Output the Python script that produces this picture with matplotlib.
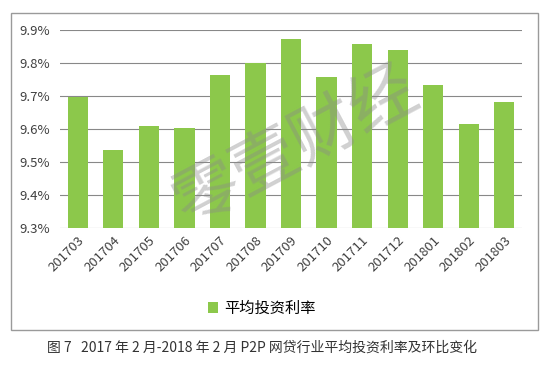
import matplotlib; matplotlib.use("agg")
import matplotlib.pyplot as plt
from matplotlib.patches import Rectangle
from matplotlib.ticker import FuncFormatter

plt.rcParams['font.family'] = ['Noto Sans CJK SC', 'DejaVu Sans']

months = ["201703", "201704", "201705", "201706", "201707", "201708", "201709",
          "201710", "201711", "201712", "201801", "201802", "201803"]
rates = [9.696, 9.536, 9.609, 9.602, 9.764, 9.799, 9.873,
         9.757, 9.858, 9.839, 9.733, 9.615, 9.682]
yticks = [9.3, 9.4, 9.5, 9.6, 9.7, 9.8, 9.9]

fig = plt.figure(figsize=(5.48, 3.67), dpi=100)

# outer chart frame
fig.patches.append(Rectangle((0.020, 0.1008), 0.9617, 0.8638, transform=fig.transFigure,
                             fill=False, edgecolor='#9a9a9a', linewidth=1.0))

ax = fig.add_axes([0.1095, 0.3787, 0.8431, 0.5396])
x = range(len(months))
ax.bar(x, rates, width=0.57, color='#8cc84b', zorder=2, label='平均投资利率')
ax.set_ylim(9.3, 9.9)
ax.set_xlim(-0.5, len(months) - 0.5)
ax.set_yticks(yticks)
ax.yaxis.set_major_formatter(FuncFormatter(lambda v, p: '%.1f%%' % v))
ax.set_xticks(list(x))
ax.set_xticklabels(months, rotation=45, ha='right', rotation_mode='anchor')
ax.tick_params(axis='both', length=0, labelsize=9.5, colors='#404040')
ax.tick_params(axis='x', pad=4)
ax.tick_params(axis='y', pad=7)
ax.grid(axis='y', color='#888888', linewidth=0.8, zorder=0)
for s in ax.spines.values():
    s.set_visible(False)

# watermark
fig.text(0.54, 0.6, '零壹财经', fontsize=48, color='#8a8a8a', alpha=0.4,
         rotation=28, ha='center', va='center', zorder=10, fontweight='light')

fig.legend(loc='center', bbox_to_anchor=(0.478, 0.16), frameon=False, fontsize=11,
           handlelength=0.7, handleheight=0.7, handletextpad=0.4)

fig.text(0.478, 0.052, '图 7   2017 年 2 月-2018 年 2 月 P2P 网贷行业平均投资利率及环比变化',
         ha='center', va='center', fontsize=10, color='#333333')

plt.savefig("out.png", dpi=100)
